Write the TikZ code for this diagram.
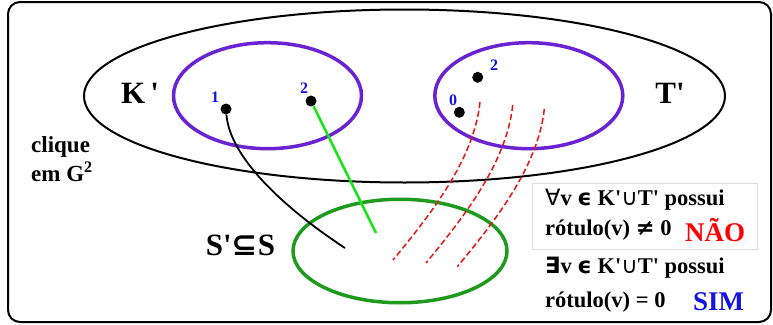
\documentclass[tikz,border=0pt]{standalone}
\usepackage{fontspec}
\setmainfont{Liberation Serif}[Ligatures=TeXOff]
\newfontfamily\symf{DejaVu Sans}
\usetikzlibrary{shapes.geometric}
\definecolor{purp}{RGB}{105,35,210}
\definecolor{grn}{RGB}{30,155,30}
\definecolor{lgrn}{RGB}{20,230,20}
\definecolor{red1}{RGB}{235,20,20}
\definecolor{blu}{RGB}{20,20,225}
\begin{document}
\begin{tikzpicture}[x=1pt,y=-1pt,
  ell/.style={draw,ellipse,inner sep=0pt},
  dot/.style={circle,fill=black,inner sep=0pt,minimum size=11pt},
  lab/.style={font=\fontsize{16}{16}\selectfont\bfseries,text=blu,inner sep=0pt},
  big/.style={font=\fontsize{31}{31}\selectfont\bfseries,inner sep=0pt},
  txt/.style={font=\fontsize{22.5}{22.5}\selectfont\bfseries,inner sep=0pt,anchor=west},
  ans/.style={font=\fontsize{27}{27}\selectfont\bfseries,inner sep=0pt,anchor=west},
  rd/.style={draw=red1,line width=1.5pt,dash pattern=on 6pt off 3pt}]
\useasboundingbox (0,0) rectangle (773,324);
\draw[line width=2pt,rounded corners=12pt] (8,2) rectangle (771,322);
% ellipses
\node[ell,line width=2pt,minimum width=641pt,minimum height=173pt] (clq) at (404.5,96) {};
\node[ell,draw=purp,line width=3.5pt,minimum width=188pt,minimum height=106pt] (kp) at (267.5,95.7) {};
\node[ell,draw=purp,line width=3.5pt,minimum width=188pt,minimum height=106pt] (tp) at (528.8,95.7) {};
\node[ell,draw=grn,line width=3.5pt,minimum width=214pt,minimum height=103.5pt] (sp) at (400,251) {};
% text box
\node[draw=gray!25,line width=1pt,minimum width=225pt,minimum height=66.6pt,inner sep=0pt,anchor=north west] (box) at (532,182.7) {};
% dots
\node[dot] (d1) at (226,109) {};
\node[dot] (d2) at (311,101) {};
\node[dot] (d3) at (477.7,77.3) {};
\node[dot] (d4) at (459.3,112.3) {};
\node[lab] (l1) at (215,97) {1};
\node[lab] (l2) at (304,88) {2};
\node[lab] (l3) at (494,65) {2};
\node[lab] (l4) at (453,100) {0};
% big labels
\node[big] (kl) at (140,93) {K\,'};
\node[big] (tl) at (670,93) {T'};
\node[big] (sl) at (240.5,245) {S'{\symf\bfseries ⊆}S};
\node[font=\fontsize{23}{29}\selectfont\bfseries,align=left,anchor=west,inner sep=0pt] (cl) at (31,159) {clique\\em G\textsuperscript{2}};
% box text
\node[txt] (t1) at (545,199.3) {{\symf\mdseries ∀}v {\symf ϵ} K'{\symf\mdseries ∪}T' possui};
\node[txt] (t2) at (545,230) {rótulo(v) {\symf ≠} 0};
\node[ans,text=red] (no) at (685,230) {NÃO};
\node[txt] (t3) at (545,268) {{\symf\bfseries ∃}v {\symf ϵ} K'{\symf\mdseries ∪}T' possui};
\node[txt] (t4) at (545,301.7) {rótulo(v) = 0};
\node[ans,text=blu] (yes) at (693,301.7) {SIM};
% connectors
\coordinate (e1) at (345,248);
\coordinate (e2) at (376,233);
\draw[line width=1.8pt] (d1) .. controls (230,160) and (290,212) .. (e1);
\draw[lgrn,line width=2.5pt] (d2) -- (e2);
\coordinate (r1a) at (480,102);
\coordinate (r1b) at (393,260);
\coordinate (r2a) at (512.7,105);
\coordinate (r2b) at (426,263);
\coordinate (r3a) at (544.3,109);
\coordinate (r3b) at (457.3,266.7);
\draw[rd] (r1a) .. controls (474,160) and (430,215) .. (r1b);
\draw[rd] (r2a) .. controls (506.7,163) and (463,218) .. (r2b);
\draw[rd] (r3a) .. controls (538,167) and (494.3,222) .. (r3b);
\end{tikzpicture}
\end{document}
